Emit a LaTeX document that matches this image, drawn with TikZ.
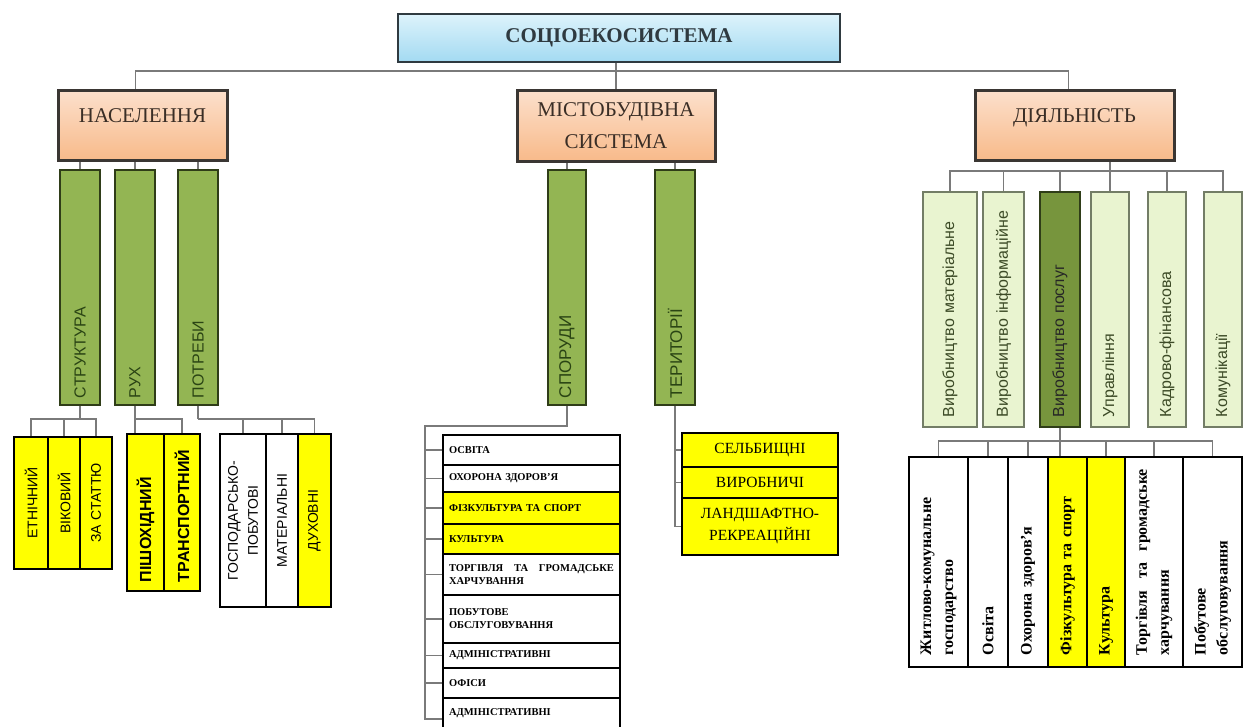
\documentclass[tikz,border=0pt]{standalone}
\usepackage{fontspec}
\setmainfont{Liberation Serif}
\setsansfont{Liberation Sans}
\usepackage{graphicx}

\definecolor{skyTop}{HTML}{DDF3FB}
\definecolor{skyBot}{HTML}{A3DAF2}
\definecolor{skyEdge}{HTML}{2F3A40}
\definecolor{peachTop}{HTML}{FCE0CC}
\definecolor{peachBot}{HTML}{F8BA8A}
\definecolor{boxEdge}{HTML}{3A3633}
\definecolor{titleText}{HTML}{3A2E26}
\definecolor{barGreen}{HTML}{93B553}
\definecolor{barDeep}{HTML}{77953D}
\definecolor{barEdge}{HTML}{2F3D18}
\definecolor{barText}{HTML}{2A4414}
\definecolor{paleGreen}{HTML}{E9F4D0}
\definecolor{paleEdge}{HTML}{737D66}
\definecolor{paleText}{HTML}{3C4A26}
\definecolor{hiYellow}{HTML}{FFFF00}
\definecolor{wire}{HTML}{7A7A7A}

\begin{document}
\begin{tikzpicture}[x=1pt,y=-1pt,
  conn/.style={draw=wire, line width=1.2pt},
  rootbox/.style={draw=skyEdge, line width=2pt, top color=skyTop, bottom color=skyBot,
    minimum width=442pt, minimum height=48pt, inner sep=0pt,
    font=\bfseries\fontsize{21}{24}\selectfont, text=skyEdge},
  areabox/.style={draw=boxEdge, line width=3pt, top color=peachTop, bottom color=peachBot,
    minimum height=70pt, inner sep=0pt, align=center,
    font=\fontsize{21}{24}\selectfont, text=titleText},
  gbar/.style={rotate=90, draw=barEdge, line width=1.6pt, fill=barGreen,
    minimum width=235pt, minimum height=40pt, inner sep=0pt,
    text width=221pt, align=left, text=barText,
    font=\sffamily\fontsize{16}{18}\selectfont},
  pbar/.style={rotate=90, draw=paleEdge, line width=1.3pt, fill=paleGreen,
    minimum width=235pt, minimum height=38pt, inner sep=0pt,
    text width=215pt, align=left, text=paleText,
    font=\sffamily\fontsize{16}{18}\selectfont},
  vcell/.style={rotate=90, draw=black, line width=2pt, fill=hiYellow,
    inner sep=0pt, align=center, text=black,
    font=\sffamily\fontsize{14}{20}\selectfont},
  lrow/.style={draw=black, line width=1.8pt, fill=white,
    minimum width=177pt, text width=165pt, inner sep=0pt, align=left,
    font=\bfseries\fontsize{10.5}{13}\selectfont},
  trow/.style={draw=black, line width=2.5pt, fill=hiYellow,
    minimum width=156pt, text width=150pt, inner sep=0pt, align=center,
    font=\fontsize{15.5}{22}\selectfont},
  bcell/.style={rotate=90, draw=black, line width=2.2pt, fill=white,
    minimum width=210pt, text width=186pt, inner sep=0pt, align=left,
    font=\bfseries\fontsize{16}{22}\selectfont}
]
\useasboundingbox (0,0) rectangle (1243,726);

% --- root and the three areas ---
\node[rootbox] (soc) at (619,38) {СОЦІОЕКОСИСТЕМА};
\node[areabox, minimum width=169pt, text height=14pt, text depth=19pt] (nas) at (142.5,125) {НАСЕЛЕННЯ};
\node[areabox, minimum width=198pt, minimum height=71pt] (mist) at (616,125.5) {МІСТОБУДІВНА\\[8pt]СИСТЕМА};
\node[areabox, minimum width=199pt, text height=14pt, text depth=19pt] (dial) at (1074.5,125) {ДІЯЛЬНІСТЬ};

% --- population branch ---
\node[gbar] (str) at (80,287.5) {СТРУКТУРА};
\node[gbar] (ruh) at (135,287.5) {РУХ};
\node[gbar] (pot) at (198,287.5) {ПОТРЕБИ};

\node[vcell, minimum width=132pt, text width=124pt, minimum height=34pt] (etn) at (31,503) {ЕТНІЧНИЙ};
\node[vcell, minimum width=132pt, text width=124pt, minimum height=32pt] (vik) at (64,503) {ВІКОВИЙ};
\node[vcell, minimum width=132pt, text width=124pt, minimum height=32pt] (stat) at (96,503) {ЗА СТАТТЮ};

\node[vcell, minimum width=157pt, text width=139pt, minimum height=37pt, align=left,
  font=\sffamily\bfseries\fontsize{16}{18}\selectfont] (pis) at (145.5,512.5) {ПІШОХІДНИЙ};
\node[vcell, minimum width=157pt, text width=139pt, minimum height=36pt, align=left,
  font=\sffamily\bfseries\fontsize{16}{18}\selectfont] (tra) at (182,512.5) {ТРАНСПОРТНИЙ};

\node[vcell, fill=white, minimum width=173pt, text width=160pt, minimum height=46pt] (gosp) at (243,520.5) {ГОСПОДАРСЬКО-\\ПОБУТОВІ};
\node[vcell, fill=white, minimum width=173pt, text width=160pt, minimum height=32pt] (mat) at (282,520.5) {МАТЕРІАЛЬНІ};
\node[vcell, minimum width=173pt, text width=160pt, minimum height=33pt] (duh) at (314.5,520.5) {ДУХОВНІ};

% --- urban planning branch ---
\node[gbar, minimum height=38pt, font=\sffamily\fontsize{17}{19}\selectfont] (spo) at (567,287.5) {СПОРУДИ};
\node[gbar, font=\sffamily\fontsize{17}{19}\selectfont] (ter) at (675,287.5) {ТЕРИТОРІЇ};

\node[lrow, minimum height=30pt] (r1) at (531.5,450) {ОСВІТА};
\node[lrow, minimum height=27pt] (r2) at (531.5,478.5) {ОХОРОНА ЗДОРОВ'Я};
\node[lrow, minimum height=32pt, fill=hiYellow] (r3) at (531.5,508) {ФІЗКУЛЬТУРА ТА СПОРТ};
\node[lrow, minimum height=30pt, fill=hiYellow] (r4) at (531.5,539) {КУЛЬТУРА};
\node[lrow, minimum height=41pt] (r5) at (531.5,574.5) {ТОРГІВЛЯ\hfill ТА\hfill ГРОМАДСЬКЕ\\ХАРЧУВАННЯ};
\node[lrow, minimum height=48pt] (r6) at (531.5,619) {ПОБУТОВЕ\\ОБСЛУГОВУВАННЯ};
\node[lrow, minimum height=25pt] (r7) at (531.5,655.5) {АДМІНІСТРАТИВНІ};
\node[lrow, minimum height=30pt] (r8) at (531.5,683) {ОФІСИ};
\node[lrow, minimum height=42pt, text depth=14pt] (r9) at (531.5,719) {АДМІНІСТРАТИВНІ};

\node[trow, minimum height=34pt] (t1) at (760,450) {СЕЛЬБИЩНІ};
\node[trow, minimum height=31pt] (t2) at (760,482.5) {ВИРОБНИЧІ};
\node[trow, minimum height=57pt] (t3) at (760,526.5) {ЛАНДШАФТНО-\\РЕКРЕАЦІЙНІ};

% --- activity branch ---
\node[pbar, minimum height=54pt] (b1) at (950,309.5) {Виробництво матеріальне};
\node[pbar, minimum height=41pt] (b2) at (1003.5,309.5) {Виробництво інформаційне};
\node[pbar, minimum height=40pt, fill=barDeep, draw=barEdge, line width=1.8pt, text=black!85] (b3) at (1060,309.5) {Виробництво послуг};
\node[pbar] (b4) at (1110,309.5) {Управління};
\node[pbar] (b5) at (1167,309.5) {Кадрово-фінансова};
\node[pbar] (b6) at (1223,309.5) {Комунікації};

\node[bcell, minimum height=59pt] (c1) at (938.5,562) {Житлово-комунальне\\господарство};
\node[bcell, minimum height=40pt] (c2) at (988,562) {Освіта};
\node[bcell, minimum height=40pt] (c3) at (1028,562) {Охорона здоров'я};
\node[bcell, minimum height=39pt, fill=hiYellow] (c4) at (1067.5,562) {Фізкультура та спорт};
\node[bcell, minimum height=38pt, fill=hiYellow] (c5) at (1106,562) {Культура};
\node[bcell, minimum height=58pt] (c6) at (1154,562) {Торгівля\hfill та\hfill громадське\\харчування};
\node[bcell, minimum height=59pt] (c7) at (1212.5,562) {Побутове\\обслуговування};

% --- connectors: root level ---
\coordinate (bus) at (616,71);
\draw[conn] (mist.north) -- (mist.north |- soc.south);
\draw[conn] ([xshift=-7pt]nas.north) |- (bus) -| ([xshift=-6pt]dial.north);

% population
\foreach \b in {str,ruh,pot} \draw[conn] (\b.east) -- (\b.east |- nas.south);
\coordinate (sb1) at (80,419);
\draw[conn] (str.west) -- (sb1);
\draw[conn] (etn.east) |- (sb1);
\draw[conn] (stat.east) |- (sb1);
\draw[conn] (vik.east) -- (vik.east |- sb1);
\coordinate (sb2) at (135,419);
\draw[conn] (ruh.west) -- (ruh.west |- pis.east);
\draw[conn] (tra.east) |- (sb2);
\coordinate (sb3) at (198,419);
\draw[conn] (pot.west) -- (sb3);
\draw[conn] (duh.east) |- (sb3);
\draw[conn] (gosp.east) -- (gosp.east |- sb3);
\draw[conn] (mat.east) -- (mat.east |- sb3);

% urban planning
\foreach \b in {spo,ter} \draw[conn] (\b.east) -- (\b.east |- mist.south);
\coordinate (tk) at (425,426);
\draw[conn] (spo.west) |- (tk) |- (r9.west);
\foreach \r in {r1,r2,r3,r4,r5,r6,r7,r8} \draw[conn] (\r.west) -- (\r.west -| tk);
\draw[conn] (ter.west) |- (t3.west);
\foreach \r in {t1,t2} \draw[conn] (\r.west) -- (\r.west -| ter.west);

% activity
\coordinate (rb) at (1110,171);
\draw[conn] (b4.east) -- (b4.east |- dial.south);
\draw[conn] (b1.east) |- (rb);
\draw[conn] (b6.east) |- (rb);
\foreach \b in {b2,b3,b5} \draw[conn] (\b.east) -- (\b.east |- rb);
\coordinate (cb) at (1060,441);
\draw[conn] (b3.west) -- (b3.west |- c4.east);
\draw[conn] (c1.east) |- (cb);
\draw[conn] (c7.east) |- (cb);
\foreach \c in {c2,c3,c5,c6} \draw[conn] (\c.east) -- (\c.east |- cb);
\end{tikzpicture}
\end{document}
